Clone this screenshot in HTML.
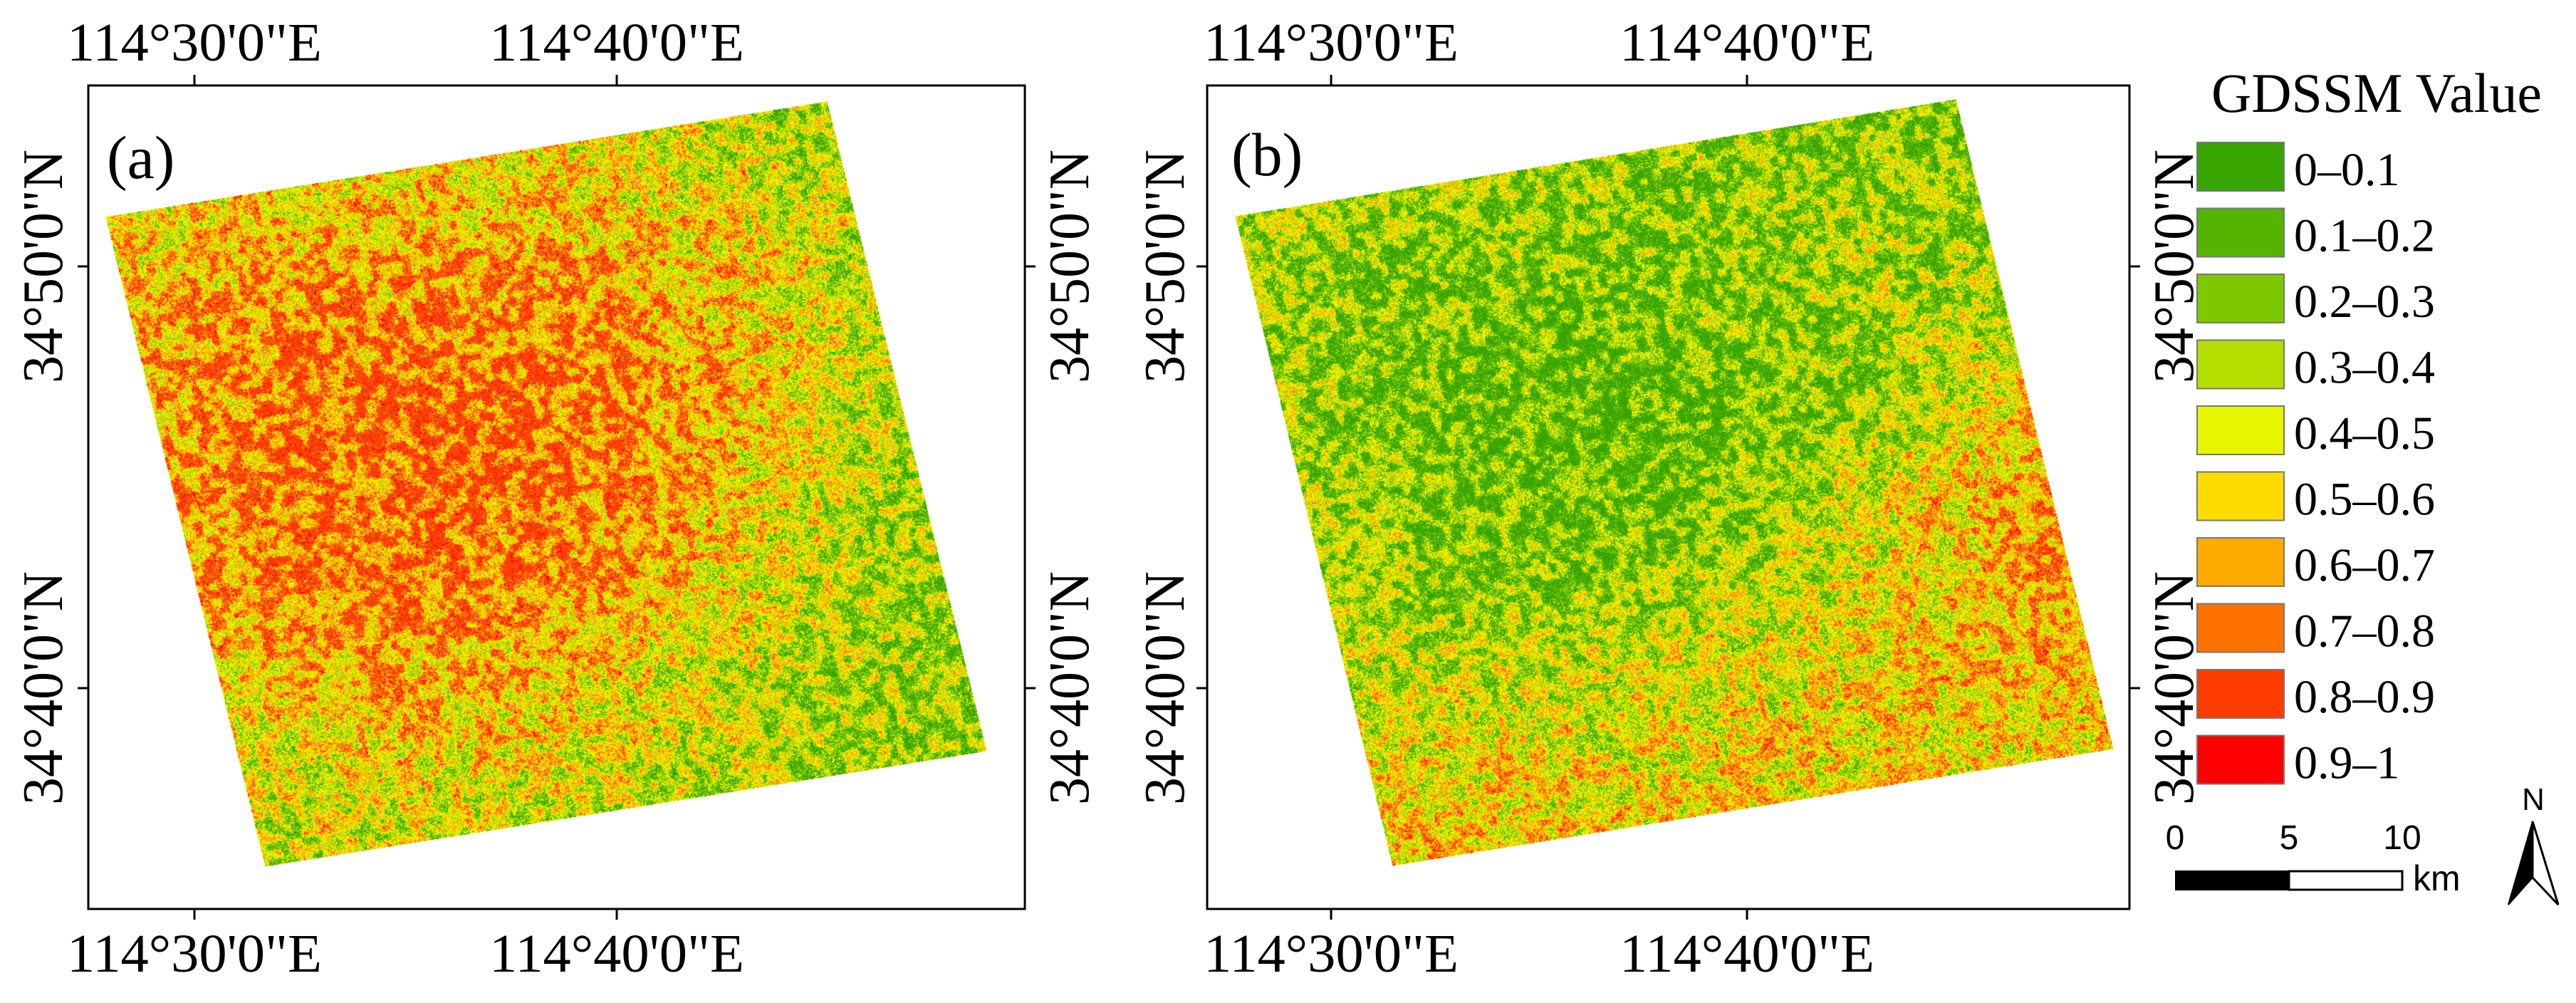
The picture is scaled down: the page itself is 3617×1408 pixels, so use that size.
<!DOCTYPE html>
<html>
<head>
<meta charset="utf-8">
<style>
html,body{margin:0;padding:0;background:#fff;}
#wrap{position:relative;width:3617px;height:1408px;overflow:hidden;background:#fff;}
canvas{position:absolute;left:0;top:0;}
svg{position:absolute;left:0;top:0;}
text{font-family:"Liberation Serif",serif;fill:#000;}
.sans{font-family:"Liberation Sans",sans-serif;}
</style>
</head>
<body>
<div id="wrap">
<canvas id="cv" width="3617" height="1408"></canvas>
<svg id="ov" width="3617" height="1408" viewBox="0 0 3617 1408"></svg>
</div>
<script>
// Legend classes
const classLabels = ["0\u20130.1","0.1\u20130.2","0.2\u20130.3","0.3\u20130.4","0.4\u20130.5","0.5\u20130.6","0.6\u20130.7","0.7\u20130.8","0.8\u20130.9","0.9\u20131"];
const classColors = ["#38a400","#55b400","#7ec800","#b3de00","#e6f600","#ffdc00","#ffaa00","#ff7200","#ff3c00","#ff0000"];
// Coarse regional mean GDSSM (rows top->bottom, cols left->right within each image)
const gridA = [
 [0.50,0.55,0.55,0.50,0.40,0.32],
 [0.62,0.72,0.68,0.65,0.55,0.40],
 [0.66,0.78,0.80,0.75,0.58,0.38],
 [0.66,0.76,0.76,0.68,0.48,0.32],
 [0.48,0.58,0.58,0.48,0.38,0.30],
 [0.38,0.42,0.42,0.38,0.32,0.30]];
const gridB = [
 [0.35,0.30,0.30,0.28,0.28,0.22],
 [0.30,0.24,0.20,0.24,0.32,0.30],
 [0.30,0.20,0.15,0.20,0.30,0.45],
 [0.35,0.25,0.22,0.30,0.48,0.68],
 [0.45,0.45,0.45,0.48,0.55,0.65],
 [0.60,0.55,0.52,0.50,0.50,0.50]];
const lonTicks = ["114\u00b030'0\"E","114\u00b040'0\"E"];
const latTicks = ["34\u00b050'0\"N","34\u00b040'0\"N"];
const scaleLabels = ["0","5","10"];

const NS="http://www.w3.org/2000/svg";
const ov=document.getElementById('ov');
function mk(tag,attrs,parent){const e=document.createElementNS(NS,tag);for(const k in attrs)e.setAttribute(k,attrs[k]);(parent||ov).appendChild(e);return e;}

// ---- rasters ----
function hash(x,y,s){let h=(x*374761393+y*668265263+s*982451653)|0;h=(h^(h>>>13))*1274126177|0;h=h^(h>>>16);return (h>>>0)/4294967295;}
function vnoise(x,y,sc,s){const fx=x/sc,fy=y/sc,ix=Math.floor(fx),iy=Math.floor(fy),tx=fx-ix,ty=fy-iy;
 const sx=tx*tx*(3-2*tx),sy=ty*ty*(3-2*ty);
 const a=hash(ix,iy,s),b=hash(ix+1,iy,s),c=hash(ix,iy+1,s),d=hash(ix+1,iy+1,s);
 return a+(b-a)*sx+(c-a)*sy+(a-b-c+d)*sx*sy;}
function gridVal(g,u,v){const n=g.length-1,m=g[0].length-1;const fx=u*m,fy=v*n;const ix=Math.min(m-1,Math.floor(fx)),iy=Math.min(n-1,Math.floor(fy));const tx=fx-ix,ty=fy-iy;
 return g[iy][ix]*(1-tx)*(1-ty)+g[iy][ix+1]*tx*(1-ty)+g[iy+1][ix]*(1-tx)*ty+g[iy+1][ix+1]*tx*ty;}
const rgb=classColors.map(c=>[parseInt(c.substr(1,2),16),parseInt(c.substr(3,2),16),parseInt(c.substr(5,2),16)]);
const cv=document.getElementById('cv');const ctx=cv.getContext('2d');
function drawRaster(TL,TR,BL,grid,seed){
 const e1=[TR[0]-TL[0],TR[1]-TL[1]],e2=[BL[0]-TL[0],BL[1]-TL[1]];
 const det=e1[0]*e2[1]-e1[1]*e2[0];
 const BR=[TR[0]+e2[0],TR[1]+e2[1]];
 const x0=Math.floor(Math.min(TL[0],BL[0])),x1=Math.ceil(Math.max(TR[0],BR[0]));
 const y0=Math.floor(Math.min(TL[1],TR[1])),y1=Math.ceil(Math.max(BL[1],BR[1]));
 const W=x1-x0,H=y1-y0;const img=ctx.createImageData(W,H);const d=img.data;
 for(let y=0;y<H;y++){for(let x=0;x<W;x++){
  const px=x+x0-TL[0],py=y+y0-TL[1];
  const u=(px*e2[1]-py*e2[0])/det,v=(e1[0]*py-e1[1]*px)/det;
  if(u<0||u>1||v<0||v>1)continue;
  const lx=Math.floor(u*1030),ly=Math.floor(v*940);
  let val=gridVal(grid,u,v);
  let s=vnoise(lx,ly,11,seed)-0.5;
  s=Math.sign(s)*Math.pow(Math.abs(s)*2,0.6)*0.5;
  const mid=vnoise(lx,ly,4,seed+1)-0.5;
  const fine=hash(lx>>1,ly>>1,seed+2)-0.5;
  val+=s*0.5+mid*0.2+fine*0.4;
  if(val>=0.9&&fine<0.42)val=0.85;
  let k=Math.floor(val*10);k=Math.max(0,Math.min(9,k));
  const i=(y*W+x)*4;d[i]=rgb[k][0];d[i+1]=rgb[k][1];d[i+2]=rgb[k][2];d[i+3]=255;}}
 ctx.putImageData(img,x0,y0);
}
drawRaster([148,304],[1161,142],[372,1216],gridA,11);
drawRaster([1734,303],[2746,139],[1955,1215],gridB,23);

// ---- panels ----
const panels=[
 {id:'a',L:124,R:1439,T:120,B:1276,lon:[273,866],lat:[374,966],latLeftX:87,latRightX:1528,tag:'(a)',tagX:150,tagY:250},
 {id:'b',L:1695,R:2990,T:120,B:1276,lon:[1869,2453],lat:[374,966],latLeftX:1662,latRightX:3079,tag:'(b)',tagX:1729,tagY:246}
];
panels.forEach(p=>{
 const g=mk('g',{});
 
 
 const fr=mk('rect',{x:p.L,y:p.T,width:p.R-p.L,height:p.B-p.T,fill:'none',stroke:'#000','stroke-width':3},g);
 
 
 p.lon.forEach((x,i)=>{
  mk('line',{x1:x,y1:p.T,x2:x,y2:p.T-15,stroke:'#000','stroke-width':3},g);
  mk('line',{x1:x,y1:p.B,x2:x,y2:p.B+15,stroke:'#000','stroke-width':3},g);
  const t1=mk('text',{x:x,y:85,'text-anchor':'middle','font-size':76,textLength:358,lengthAdjust:'spacingAndGlyphs'},g);
  t1.textContent=lonTicks[i];
  
  
  const t2=mk('text',{x:x,y:1364,'text-anchor':'middle','font-size':76,textLength:358,lengthAdjust:'spacingAndGlyphs'},g);
  t2.textContent=lonTicks[i];
  
  
 });
 p.lat.forEach((y,i)=>{
  mk('line',{x1:p.L,y1:y,x2:p.L-15,y2:y,stroke:'#000','stroke-width':3},g);
  mk('line',{x1:p.R,y1:y,x2:p.R+15,y2:y,stroke:'#000','stroke-width':3},g);
  [p.latLeftX,p.latRightX].forEach((bx,j)=>{
   const t=mk('text',{x:0,y:0,'text-anchor':'middle','font-size':80,textLength:328,lengthAdjust:'spacingAndGlyphs',transform:`translate(${bx},${y}) rotate(-90)`},g);
   t.textContent=latTicks[i];
   
   
  });
 });
 const tg=mk('text',{x:p.tagX,y:p.tagY,'font-size':86},g);
 tg.textContent=p.tag;
 
 
});

// ---- legend ----
const lg=mk('g',{});


const lt=mk('text',{x:3105,y:157,'font-size':78,textLength:464,lengthAdjust:'spacingAndGlyphs'},lg);
lt.textContent='GDSSM Value';


classLabels.forEach((lab,i)=>{
 const y=200+i*92.5;
 const r=mk('rect',{x:3085,y:y,width:122,height:68,fill:classColors[i],stroke:'#777','stroke-width':2},lg);
 
 
 const t=mk('text',{x:3221,y:y+60,'font-size':66},lg);
 t.textContent=lab;
 
 
});

// ---- scale bar ----
const sb=mk('g',{});


const sbX=[3054,3214,3373];
mk('rect',{x:3054,y:1222,width:160,height:28,fill:'#000'},sb);
mk('rect',{x:3214,y:1223,width:159,height:26,fill:'#fff',stroke:'#000','stroke-width':3},sb);
scaleLabels.forEach((s,i)=>{
 const t=mk('text',{x:sbX[i],y:1192,'text-anchor':'middle','font-size':48,'class':'sans'},sb);
 t.textContent=s;
 
 
});
const km=mk('text',{x:3388,y:1250,'font-size':50,'class':'sans'},sb);
km.textContent='km';



// ---- north arrow ----
const na=mk('g',{});


const nt=mk('text',{x:3557,y:1137,'text-anchor':'middle','font-size':44,'class':'sans'},na);
nt.textContent='N';


mk('polygon',{points:'3556,1153 3522,1270 3556,1232',fill:'#000',stroke:'#000','stroke-width':2},na);
mk('polygon',{points:'3556,1153 3592,1270 3556,1232',fill:'#fff',stroke:'#000','stroke-width':3},na);
</script>
</body>
</html>
